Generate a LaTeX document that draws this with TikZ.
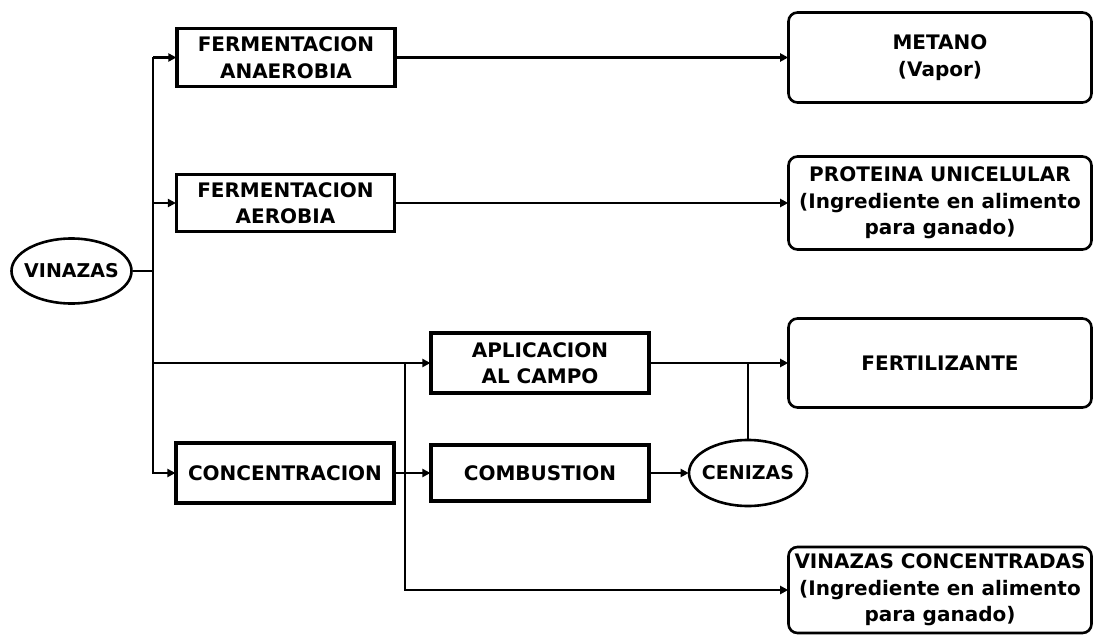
\documentclass[tikz,border=0pt]{standalone}
\usepackage{fontspec}
\setmainfont{DejaVu Sans}
\usetikzlibrary{shapes.geometric,arrows.meta}
\begin{document}
\begin{tikzpicture}[x=1pt,y=-1pt,
  every node/.style={font=\bfseries\fontsize{20}{26.5}\selectfont, align=center, inner sep=0pt},
  procbox/.style={draw, line width=3.2pt, rectangle, minimum width=#1},
  procbox/.default=218pt,
  outbox/.style={draw, line width=2.6pt, rectangle, rounded corners=9pt, minimum width=303pt},
  oval/.style={draw, line width=2.6pt, ellipse, inner sep=-9pt, minimum width=120pt, minimum height=65pt,
    font=\bfseries\fontsize{19}{24}\selectfont},
  link/.style={line width=2.2pt},
  arr/.style={link, -{Triangle[length=8pt,width=8pt]}, shorten >=-1pt}
]
\useasboundingbox (0,0) rectangle (1094,634);

% source
\node[oval] (vin) at (71.5,271) {VINAZAS};

% treatment stages
\node[procbox, minimum height=58pt] (fa)  at (286,57.5) {FERMENTACION\\ANAEROBIA};
\node[procbox, minimum height=57pt] (fae) at (285.5,203) {FERMENTACION\\AEROBIA};
\node[procbox, minimum height=60pt] (apl) at (540,363) {APLICACION\\AL CAMPO};
\node[procbox, minimum height=60pt] (conc) at (285,473) {CONCENTRACION};
\node[procbox, minimum height=56pt] (comb) at (540,473) {COMBUSTION};
\node[oval, minimum width=118pt, minimum height=66pt] (cen) at (748,473) {CENIZAS};

% products
\node[outbox, minimum height=90pt] (met)  at (940,57.5) {METANO\\(Vapor)};
\node[outbox, minimum height=93pt] (prot) at (940,203) {PROTEINA UNICELULAR\\(Ingrediente en alimento\\para ganado)};
\node[outbox, minimum height=89pt] (fert) at (940,363) {FERTILIZANTE};
\node[outbox, minimum height=86pt] (vcon) at (940,590) {VINAZAS CONCENTRADAS\\(Ingrediente en alimento\\para ganado)};

% junction columns
\coordinate (tr) at (153,0);
\coordinate (jx) at (405,0);

% main trunk from VINAZAS
\draw[link] (vin.east) -- (vin.east -| tr);
\draw[arr] (tr |- fa.west) -- (tr |- conc.west) -- (conc.west);
\draw[arr] (tr |- fa.west) -- (fa.west);
\draw[arr] (tr |- fae.west) -- (fae.west);
\draw[arr] (tr |- apl.west) -- (apl.west);

% branches after concentration
\draw[arr] (conc.east) -- (comb.west);
\draw[arr] (jx |- apl.west) -- (jx |- vcon.west) -- (vcon.west);

% products
\draw[arr] (fa.east) -- (met.west);
\draw[arr] (fae.east) -- (prot.west);
\draw[arr] (apl.east) -- (fert.west);
\draw[arr] (comb.east) -- (cen.west);
\draw[link] (cen.north) -- (cen.north |- fert.west);
\end{tikzpicture}
\end{document}
